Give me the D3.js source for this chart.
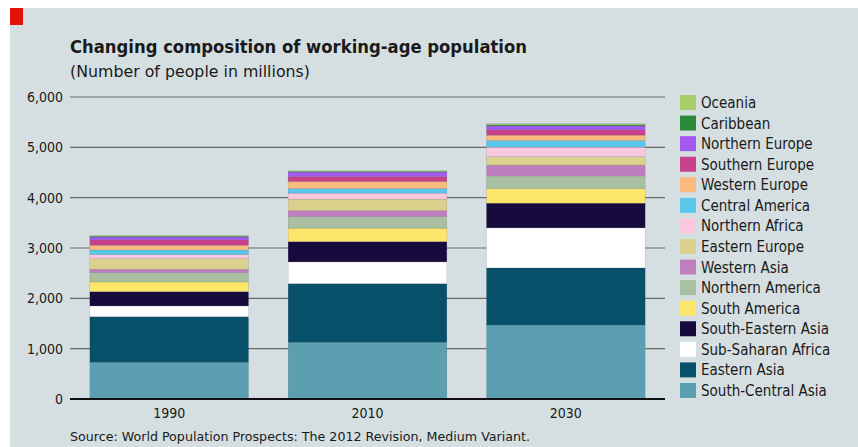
<!DOCTYPE html>
<html>
<head>
<meta charset="utf-8">
<script src="https://cdn.jsdelivr.net/npm/d3@7"></script>
<style>
  body { margin: 0; background: #fff; }
  svg text { font-family: "DejaVu Sans Condensed", "Liberation Sans Narrow", "DejaVu Sans", sans-serif; fill: #1a1a1a; }
</style>
</head>
<body>
<div id="chart"></div>
<script>
const years = ['1990', '2010', '2030'];

// bottom to top
const regions = [
  'South-Central Asia', 'Eastern Asia', 'Sub-Saharan Africa', 'South-Eastern Asia',
  'South America', 'Northern America', 'Western Asia', 'Eastern Europe',
  'Northern Africa', 'Central America', 'Western Europe', 'Southern Europe',
  'Northern Europe', 'Caribbean', 'Oceania'
];

const colours = [
  '#5b9fb0', '#07506a', '#ffffff', '#170a3c',
  '#fde66a', '#a8bfa0', '#bf7fbf', '#dbd08c',
  '#f9c8e0', '#5bc6ea', '#fbbb7e', '#c8418a',
  '#a259f0', '#2a8a3a', '#a6cf6a'
];

// millions, per region, for 1990 / 2010 / 2030
const southCentralAsia = [730, 1127, 1471];
const easternAsia      = [906, 1165, 1133];
const subSaharanAfrica = [213, 432, 796];
const southEasternAsia = [284, 403, 490];
const southAmerica     = [193, 267, 291];
const northernAmerica  = [185, 230, 252];
const westernAsia      = [67, 120, 213];
const easternEurope    = [211, 226, 171];
const northernAfrica   = [80, 119, 187];
const centralAmerica   = [93, 92, 132];
const westernEurope    = [94, 140, 106];
const southernEurope   = [105, 100, 107];
const northernEurope   = [60, 87, 79];
const caribbean        = [12, 13, 20];
const oceania          = [15, 13, 20];

const yTicks = [0, 1000, 2000, 3000, 4000, 5000, 6000];

const series = [southCentralAsia, easternAsia, subSaharanAfrica, southEasternAsia,
  southAmerica, northernAmerica, westernAsia, easternEurope, northernAfrica,
  centralAmerica, westernEurope, southernEurope, northernEurope, caribbean, oceania];

const table = years.map((yr, i) => {
  const row = { year: yr };
  regions.forEach((r, k) => { row[r] = series[k][i]; });
  return row;
});

const width = 858, height = 447;
const svg = d3.select('#chart').append('svg')
  .attr('width', width).attr('height', height);

svg.append('rect').attr('x', 10).attr('y', 8)
  .attr('width', width - 10).attr('height', height - 8).attr('fill', '#d5dfe2');
svg.append('rect').attr('x', 10).attr('y', 8)
  .attr('width', 13).attr('height', 17).attr('fill', '#e3120b');

svg.append('text').attr('x', 70).attr('y', 53)
  .attr('font-size', 17).attr('font-weight', 'bold')
  .attr('textLength', 457).attr('lengthAdjust', 'spacingAndGlyphs')
  .text('Changing composition of working-age population');
svg.append('text').attr('x', 70).attr('y', 77)
  .attr('font-size', 15)
  .attr('textLength', 240).attr('lengthAdjust', 'spacingAndGlyphs')
  .text('(Number of people in millions)');

const x = d3.scaleBand().domain(years).range([70, 665])
  .paddingInner(0.2).paddingOuter(0.1);
const y = d3.scaleLinear().domain([0, 6000]).range([399, 97]);

// grid
const grid = svg.append('g');
grid.selectAll('line').data(yTicks.filter(d => d > 0)).enter().append('line')
  .attr('x1', 70).attr('x2', 665)
  .attr('y1', d => y(d)).attr('y2', d => y(d))
  .attr('stroke', '#6a6a6a').attr('stroke-width', 1.2);

const yAxis = svg.append('g').attr('transform', 'translate(70,0)')
  .call(d3.axisLeft(y).tickValues(yTicks).tickFormat(d3.format(',')).tickSize(0).tickPadding(7));
yAxis.select('.domain').remove();
yAxis.selectAll('text').attr('font-size', 14)
  .style('font-family', '"DejaVu Sans Condensed", "DejaVu Sans", sans-serif').attr('fill', '#1a1a1a');

const stack = d3.stack().keys(regions)(table);

svg.append('g').selectAll('g').data(stack).enter().append('g')
  .attr('fill', (d, i) => colours[i])
  .selectAll('rect').data(d => d).enter().append('rect')
  .attr('x', d => x(d.data.year))
  .attr('width', x.bandwidth())
  .attr('y', d => y(d[1]))
  .attr('height', d => y(d[0]) - y(d[1]))
  .attr('stroke', 'rgba(60,60,80,0.25)').attr('stroke-width', 0.5);

svg.append('line').attr('x1', 70).attr('x2', 665)
  .attr('y1', y(0)).attr('y2', y(0))
  .attr('stroke', '#111').attr('stroke-width', 2);

const xAxis = svg.append('g').attr('transform', 'translate(0,' + y(0) + ')')
  .call(d3.axisBottom(x).tickSize(0).tickPadding(9));
xAxis.select('.domain').remove();
xAxis.selectAll('text').attr('font-size', 14)
  .style('font-family', '"DejaVu Sans Condensed", "DejaVu Sans", sans-serif').attr('fill', '#1a1a1a');

svg.append('text').attr('x', 70).attr('y', 441)
  .attr('font-size', 13)
  .attr('textLength', 460).attr('lengthAdjust', 'spacingAndGlyphs')
  .text('Source: World Population Prospects: The 2012 Revision, Medium Variant.');

// legend, top entry is the top of the stack
const legendItems = regions.map((r, i) => ({ name: r, colour: colours[i] })).reverse();
const legend = svg.append('g').attr('transform', 'translate(680,95)')
  .selectAll('g').data(legendItems).enter().append('g')
  .attr('transform', (d, i) => 'translate(0,' + i * 20.57 + ')');
legend.append('rect').attr('width', 16).attr('height', 15).attr('fill', d => d.colour);
legend.append('text').attr('x', 21).attr('y', 13)
  .attr('font-size', 15).text(d => d.name);
</script>
</body>
</html>
